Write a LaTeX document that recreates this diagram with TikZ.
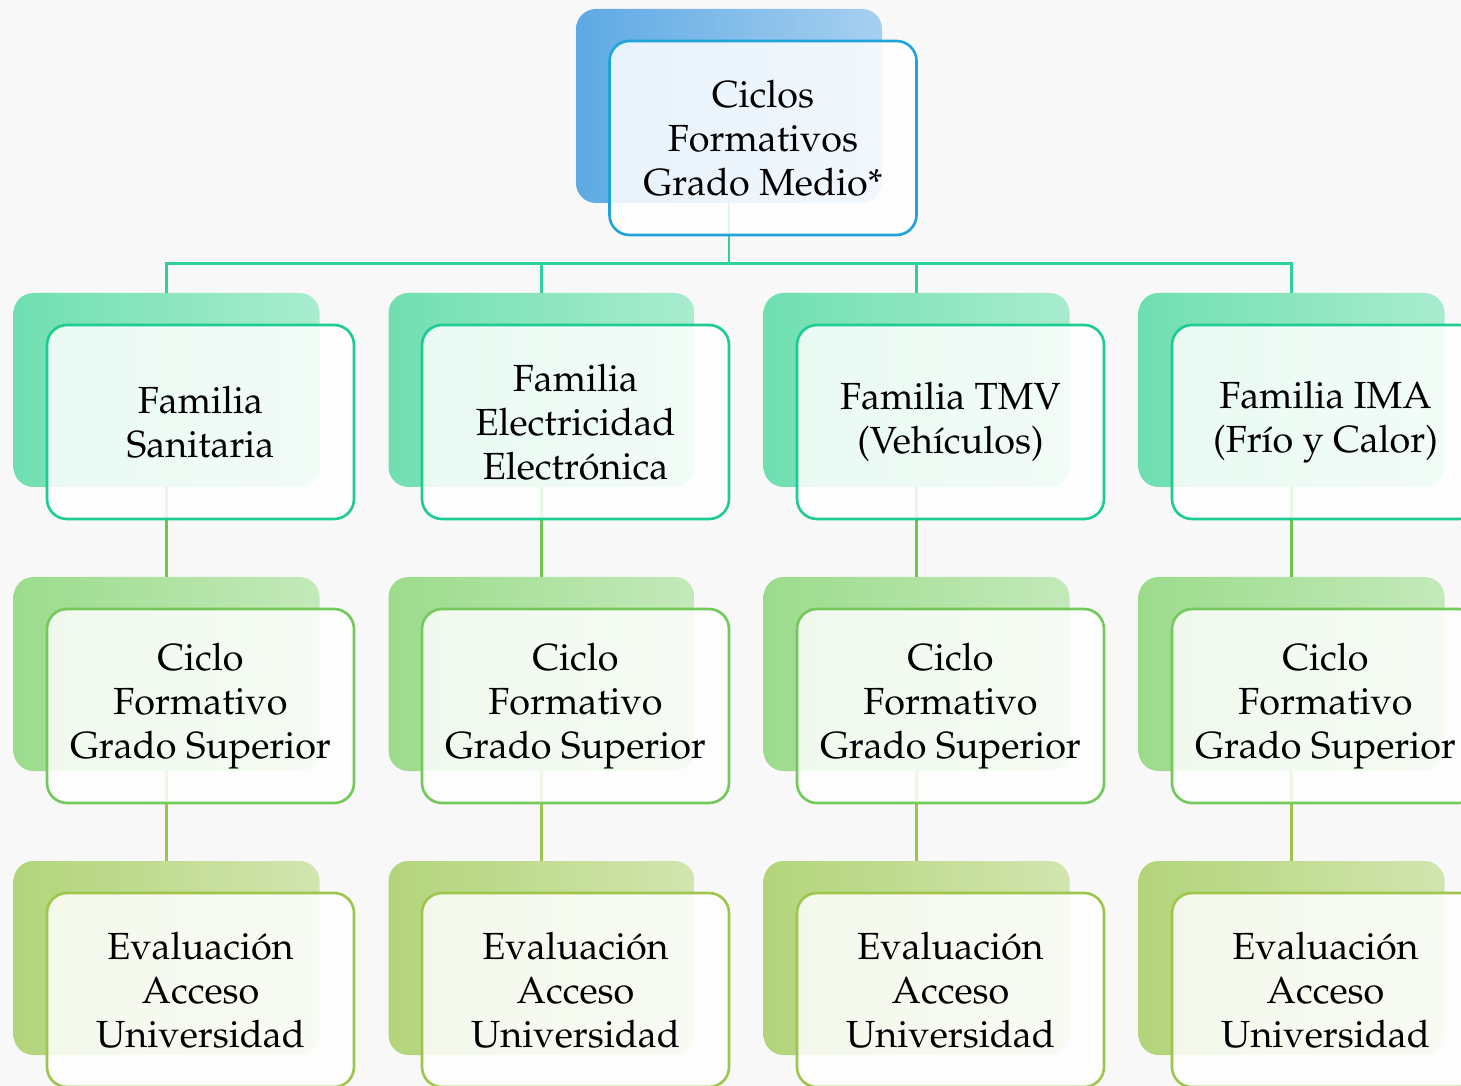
\documentclass[tikz,border=0pt]{standalone}
\usepackage[T1]{fontenc}
\usepackage{mathpazo}
\usetikzlibrary{trees}
\definecolor{bggray}{HTML}{F8F8F8}
\definecolor{bluebk}{HTML}{5EA9E4}
\definecolor{bluebd}{HTML}{1FA3D9}
\definecolor{tealbk}{HTML}{6FDFB0}
\definecolor{tealbd}{HTML}{1DCC92}
\definecolor{tealline}{HTML}{2BD29A}
\definecolor{greenbk}{HTML}{9CDB8C}
\definecolor{greenbd}{HTML}{74C95B}
\definecolor{greenline}{HTML}{6CC74F}
\definecolor{limebk}{HTML}{B3D47A}
\definecolor{limebd}{HTML}{9EC64C}
\definecolor{limeline}{HTML}{9BC54A}
\tikzset{
	back box/.style={rectangle, rounded corners=0.4cm, minimum width=6.12cm, minimum height=3.88cm, inner sep=0},
	blue back/.style={back box, left color=bluebk, right color=bluebk!55!white},
	teal back/.style={back box, left color=tealbk, right color=tealbk!60!white},
	green back/.style={back box, left color=greenbk, right color=greenbk!60!white},
	lime back/.style={back box, left color=limebk, right color=limebk!60!white},
	front box/.style={rectangle, rounded corners=0.4cm, minimum width=6.14cm, minimum height=3.88cm, inner sep=0, line width=1.5pt, fill=white, fill opacity=0.85, text opacity=1, align=center, font=\fontsize{21.5}{25}\selectfont},
	blue front/.style={front box, draw=bluebd},
	teal front/.style={front box, draw=tealbd},
	green front/.style={front box, draw=greenbd},
	lime front/.style={front box, draw=limebd},
}

\begin{document}
\begin{tikzpicture}[
    level distance=5.68cm,
    level 1/.style={sibling distance=7.5cm,
      edge from parent/.style={draw=tealline, line width=1.5pt},
      edge from parent path={(\tikzparentnode.south) |- ([yshift=0.58cm]\tikzchildnode.north) -- (\tikzchildnode.north)}},
    level 2/.style={edge from parent/.style={draw=greenline, line width=1.5pt}},
    level 3/.style={edge from parent/.style={draw=limeline, line width=1.5pt}}]

  \clip (0,0) rectangle (29.22,-21.72);
  \fill[bggray] (0,0) rectangle (29.22,-21.72);

  % back boxes and connectors
  \node(r)[blue back] at (14.58,-2.12) {}
    child{node(f1)[teal back]{}
      child{node(c1)[green back]{}
        child{node(e1)[lime back]{}}}}
    child{node(f2)[teal back]{}
      child{node(c2)[green back]{}
        child{node(e2)[lime back]{}}}}
    child{node(f3)[teal back]{}
      child{node(c3)[green back]{}
        child{node(e3)[lime back]{}}}}
    child{node(f4)[teal back]{}
      child{node(c4)[green back]{}
        child{node(e4)[lime back]{}}}}
  ;

  % front boxes
  \node(rt)[blue front] at ([shift={(0.68,-0.64)}]r) {Ciclos\\Formativos\\Grado Medio*};

  \node(ft1)[teal front] at ([shift={(0.68,-0.64)}]f1) {Familia\\Sanitaria};
  \node(ft2)[teal front] at ([shift={(0.68,-0.64)}]f2) {Familia\\Electricidad\\Electrónica};
  \node(ft3)[teal front] at ([shift={(0.68,-0.64)}]f3) {Familia TMV\\(Vehículos)};
  \node(ft4)[teal front] at ([shift={(0.68,-0.64)}]f4) {Familia IMA\\(Frío y Calor)};

  \node(ct1)[green front] at ([shift={(0.68,-0.64)}]c1) {Ciclo\\Formativo\\Grado Superior};
  \node(ct2)[green front] at ([shift={(0.68,-0.64)}]c2) {Ciclo\\Formativo\\Grado Superior};
  \node(ct3)[green front] at ([shift={(0.68,-0.64)}]c3) {Ciclo\\Formativo\\Grado Superior};
  \node(ct4)[green front] at ([shift={(0.68,-0.64)}]c4) {Ciclo\\Formativo\\Grado Superior};

  \node(et1)[lime front] at ([shift={(0.68,-0.64)}]e1) {Evaluación\\Acceso\\Universidad};
  \node(et2)[lime front] at ([shift={(0.68,-0.64)}]e2) {Evaluación\\Acceso\\Universidad};
  \node(et3)[lime front] at ([shift={(0.68,-0.64)}]e3) {Evaluación\\Acceso\\Universidad};
  \node(et4)[lime front] at ([shift={(0.68,-0.64)}]e4) {Evaluación\\Acceso\\Universidad};

\end{tikzpicture}
\end{document}
